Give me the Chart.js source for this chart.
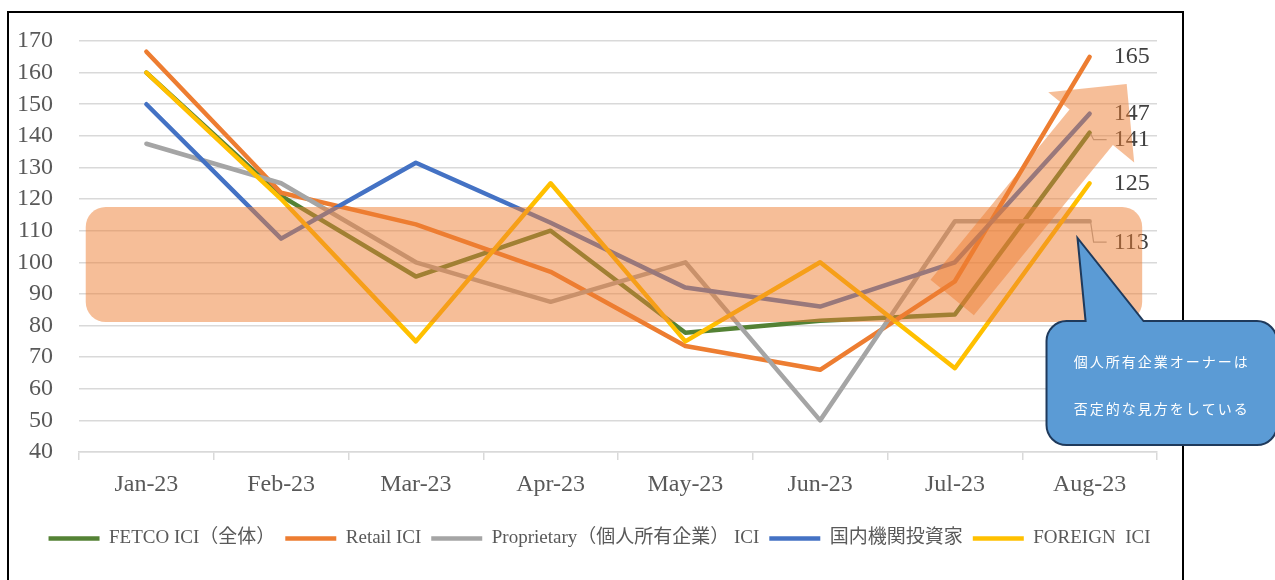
<!DOCTYPE html>
<html>
<head>
<meta charset="utf-8">
<script src="https://cdn.jsdelivr.net/npm/chart.js@4.4.0/dist/chart.umd.min.js"></script>
<style>
  html, body { margin: 0; padding: 0; background: #fff; }
</style>
</head>
<body>
<canvas id="chart" width="1275" height="580"></canvas>
<script>
// Data
const months = ['Jan-23', 'Feb-23', 'Mar-23', 'Apr-23', 'May-23', 'Jun-23', 'Jul-23', 'Aug-23'];
const fetco = [160, 121, 95.5, 110, 77.7, 81.5, 83.5, 141];
const retail = [166.6, 122, 112, 97, 73.5, 66, 94, 165];
const proprietary = [137.5, 125, 100, 87.5, 100, 50, 113, 113];
const domestic = [150, 107.5, 131.5, 112.5, 92, 86, 100, 147];
const foreign = [160, 120, 75, 125, 75, 100, 66.5, 125];
const seriesNames = ['FETCO ICI（全体）', 'Retail ICI', 'Proprietary（個人所有企業） ICI', '国内機関投資家', 'FOREIGN  ICI'];
const calloutLines = ['個人所有企業オーナーは', '否定的な見方をしている'];

const SERIF = "'Liberation Serif', 'Noto Sans CJK JP', serif";
const CJK = "'Noto Sans CJK JP', sans-serif";
const colors = ['#548235', '#ED7D31', '#A5A5A5', '#4472C4', '#FFC000'];
const overlayFill = 'rgba(237, 125, 49, 0.5)';

// end-label vertical shift (px) per series, leader line drawn when shifted
const labelShift = [7, 0, 21, 0, 0];

// annotation anchors in axis units (category index, value)
const band = { x0: -0.45, x1: 7.39, y0: 81.1, y1: 117.5, r: 20 };
const arrow = { tailX: 5.98, tailY: 88.9, tipX: 7.275, tipY: 156.4, shaft: 56, head: 111, headLen: 56 };
const callout = { left: 6.68, top: 81.4, bottom: 42.2, tipX: 6.91, tipY: 107.7, base0: 6.97, base1: 7.40, r: 20 };

const overlayPlugin = {
    id: 'overlay',
    beforeDraw(chart) {
        const ctx = chart.ctx;
        ctx.save();
        ctx.fillStyle = '#fff';
        ctx.fillRect(0, 0, chart.width, chart.height);
        ctx.strokeStyle = '#000';
        ctx.lineWidth = 2;
        ctx.strokeRect(8, 12, 1175, 620);
        ctx.restore();
    },
    afterDatasetsDraw(chart) {
        const ctx = chart.ctx;
        const xs = chart.scales.x, ys = chart.scales.y;
        ctx.save();

        // values at the last month
        ctx.font = '24px ' + SERIF;
        ctx.textAlign = 'left';
        ctx.textBaseline = 'middle';
        chart.data.datasets.forEach((ds, i) => {
            const last = ds.data.length - 1;
            const px = xs.getPixelForValue(last);
            const py = ys.getPixelForValue(ds.data[last]);
            const ly = py + labelShift[i];
            const lx = px + 24;
            if (labelShift[i]) {
                ctx.strokeStyle = '#A6A6A6';
                ctx.lineWidth = 1.2;
                ctx.beginPath();
                ctx.moveTo(px + 1, py + 1);
                ctx.lineTo(px + 4, ly);
                ctx.lineTo(lx - 7, ly);
                ctx.stroke();
            }
            ctx.fillStyle = '#404040';
            ctx.fillText(Math.round(ds.data[last]), lx, ly);
        });

        // highlighted band
        const bx0 = xs.getPixelForValue(band.x0), bx1 = xs.getPixelForValue(band.x1);
        const by0 = ys.getPixelForValue(band.y1), by1 = ys.getPixelForValue(band.y0);
        ctx.fillStyle = overlayFill;
        ctx.beginPath();
        ctx.roundRect(bx0, by0, bx1 - bx0, by1 - by0, band.r);
        ctx.fill();

        // rising arrow
        const tx = xs.getPixelForValue(arrow.tailX), ty = ys.getPixelForValue(arrow.tailY);
        const hx = xs.getPixelForValue(arrow.tipX), hy = ys.getPixelForValue(arrow.tipY);
        const len = Math.hypot(hx - tx, hy - ty);
        const ux = (hx - tx) / len, uy = (hy - ty) / len;
        const nx = -uy, ny = ux;
        const bx = hx - ux * arrow.headLen, by = hy - uy * arrow.headLen;
        const s = arrow.shaft / 2, h = arrow.head / 2;
        ctx.beginPath();
        ctx.moveTo(tx + nx * s, ty + ny * s);
        ctx.lineTo(bx + nx * s, by + ny * s);
        ctx.lineTo(bx + nx * h, by + ny * h);
        ctx.lineTo(hx, hy);
        ctx.lineTo(bx - nx * h, by - ny * h);
        ctx.lineTo(bx - nx * s, by - ny * s);
        ctx.lineTo(tx - nx * s, ty - ny * s);
        ctx.closePath();
        ctx.fill();

        // callout
        const L = xs.getPixelForValue(callout.left), R = chart.width + 2;
        const T = ys.getPixelForValue(callout.top), B = ys.getPixelForValue(callout.bottom);
        const r = callout.r;
        ctx.beginPath();
        ctx.moveTo(L + r, T);
        ctx.lineTo(xs.getPixelForValue(callout.base0), T);
        ctx.lineTo(xs.getPixelForValue(callout.tipX), ys.getPixelForValue(callout.tipY));
        ctx.lineTo(xs.getPixelForValue(callout.base1), T);
        ctx.lineTo(R - r, T);
        ctx.arcTo(R, T, R, T + r, r);
        ctx.lineTo(R, B - r);
        ctx.arcTo(R, B, R - r, B, r);
        ctx.lineTo(L + r, B);
        ctx.arcTo(L, B, L, B - r, r);
        ctx.lineTo(L, T + r);
        ctx.arcTo(L, T, L + r, T, r);
        ctx.closePath();
        ctx.fillStyle = '#5B9BD5';
        ctx.fill();
        ctx.strokeStyle = '#1F3A5C';
        ctx.lineWidth = 2;
        ctx.stroke();

        ctx.fillStyle = '#fff';
        ctx.font = '14px ' + CJK;
        ctx.letterSpacing = '2px';
        ctx.textAlign = 'center';
        const cx = (L + R) / 2;
        ctx.fillText(calloutLines[0], cx, T + (B - T) * 0.33);
        ctx.fillText(calloutLines[1], cx, T + (B - T) * 0.71);
        ctx.restore();
    }
};

const seriesData = [fetco, retail, proprietary, domestic, foreign];

new Chart(document.getElementById('chart'), {
    type: 'line',
    data: {
        labels: months,
        datasets: seriesData.map((d, i) => ({
            label: seriesNames[i],
            data: d,
            borderColor: colors[i],
            backgroundColor: colors[i],
            borderWidth: 4.5,
            borderCapStyle: 'round',
            borderJoinStyle: 'round',
            pointRadius: 0,
            tension: 0,
            order: 5 - i
        }))
    },
    options: {
        responsive: false,
        animation: false,
        devicePixelRatio: 1,
        layout: { padding: { left: 16, right: 92, top: 41, bottom: 22 } },
        plugins: {
            legend: {
                position: 'bottom',
                labels: {
                    usePointStyle: true,
                    pointStyle: 'line',
                    pointStyleWidth: 51,
                    padding: 10,
                    color: '#595959',
                    font: { family: SERIF, size: 19 },
                    sort: (a, b) => a.datasetIndex - b.datasetIndex
                }
            },
            tooltip: { enabled: false }
        },
        scales: {
            x: {
                offset: true,
                grid: { offset: true, drawOnChartArea: false, drawTicks: true, tickLength: 8, color: '#D9D9D9', lineWidth: 1.5 },
                border: { color: '#D9D9D9', width: 1.5 },
                ticks: { color: '#595959', font: { family: SERIF, size: 24 }, padding: 10, maxRotation: 0 },
                afterFit: s => { s.height = 67; }
            },
            y: {
                min: 40,
                max: 170,
                ticks: { stepSize: 10, autoSkip: false, color: '#595959', font: { family: SERIF, size: 24 }, padding: 26 },
                grid: { color: '#D9D9D9', lineWidth: 1.5, drawTicks: false },
                border: { display: false },
                afterFit: s => { s.width = 63; }
            },
            yPad: {
                position: 'right',
                grid: { display: false },
                border: { display: false },
                ticks: { display: false },
                afterFit: s => { s.width = 26; }
            }
        }
    },
    plugins: [overlayPlugin]
});
</script>
</body>
</html>
